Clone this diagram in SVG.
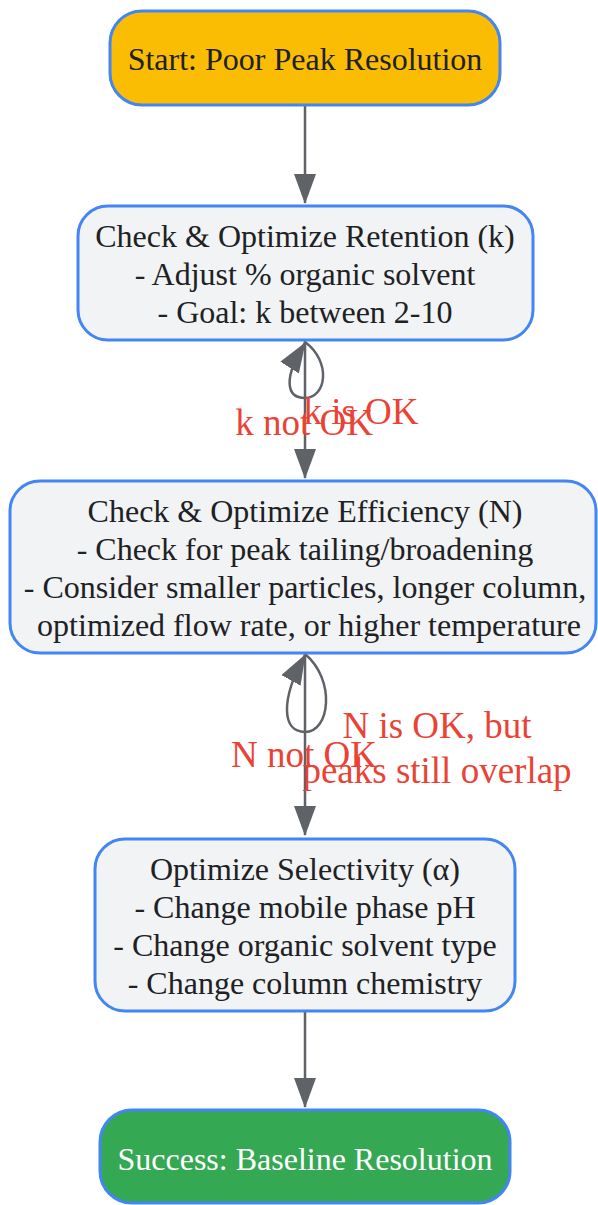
<svg xmlns="http://www.w3.org/2000/svg" width="598" height="1205" viewBox="0 0 598 1205">
<style>
.node rect{stroke:#4285F4;stroke-width:3}
.proc rect{fill:#F1F3F4}
.t{font-family:"Liberation Serif","Times New Roman",serif;font-size:32px;fill:#202124;text-anchor:middle}
.lbl{font-family:"Liberation Serif","Times New Roman",serif;font-size:37px;fill:#EA4335;text-anchor:middle}
.edge{fill:none;stroke:#5F6368;stroke-width:2.5}
</style>
<defs>
<marker id="arr" viewBox="0 0 30 22" markerUnits="userSpaceOnUse" markerWidth="30" markerHeight="22" refX="29" refY="11" orient="auto">
<path d="M0,0 L30,11 L0,22 z" fill="#5F6368"/>
</marker>
</defs>
<g id="connectors">
<path class="edge" d="M305,106 L305,203" marker-end="url(#arr)"/>
<path class="edge" d="M305,341 L305,478" marker-end="url(#arr)"/>
<path class="edge" d="M305,342 C332,362 326,398 305,398 C286,398 283,378 305,343" marker-end="url(#arr)"/>
<path class="edge" d="M305,654 L305,835" marker-end="url(#arr)"/>
<path class="edge" d="M305,654 C336,680 330,732 305,732 C282,732 280,700 305,655" marker-end="url(#arr)"/>
<path class="edge" d="M305,1012 L305,1107" marker-end="url(#arr)"/>
<text class="lbl" x="304" y="435">k not OK</text>
<text class="lbl" x="361" y="424">k is OK</text>
<text class="lbl" x="304" y="767">N not OK</text>
<text class="lbl" x="437" y="738">N is OK, but</text>
<text class="lbl" x="437" y="783">peaks still overlap</text>
</g>
<g id="start" class="node">
<rect x="110" y="11" width="390" height="94" rx="32" fill="#FBBC04"/>
<text class="t" x="305" y="70">Start: Poor Peak Resolution</text>
</g>
<g id="retention" class="node proc">
<rect x="78" y="206" width="455" height="134" rx="30"/>
<text class="t" x="305" y="247">Check &amp; Optimize Retention (k)</text>
<text class="t" x="305" y="285">- Adjust % organic solvent</text>
<text class="t" x="305" y="323">- Goal: k between 2-10</text>
</g>
<g id="efficiency" class="node proc">
<rect x="10" y="481" width="586" height="172" rx="30"/>
<text class="t" x="305" y="522">Check &amp; Optimize Efficiency (N)</text>
<text class="t" x="305" y="560">- Check for peak tailing/broadening</text>
<text class="t" x="305" y="598">- Consider smaller particles, longer column,</text>
<text class="t" x="309" y="636">optimized flow rate, or higher temperature</text>
</g>
<g id="selectivity" class="node proc">
<rect x="95" y="839" width="420" height="172" rx="30"/>
<text class="t" x="305" y="880">Optimize Selectivity (α)</text>
<text class="t" x="305" y="918">- Change mobile phase pH</text>
<text class="t" x="305" y="956">- Change organic solvent type</text>
<text class="t" x="305" y="994">- Change column chemistry</text>
</g>
<g id="success" class="node">
<rect x="100" y="1110" width="410" height="93" rx="32" fill="#34A853"/>
<text class="t" x="305" y="1170" style="fill:#FFFFFF">Success: Baseline Resolution</text>
</g>
</svg>
